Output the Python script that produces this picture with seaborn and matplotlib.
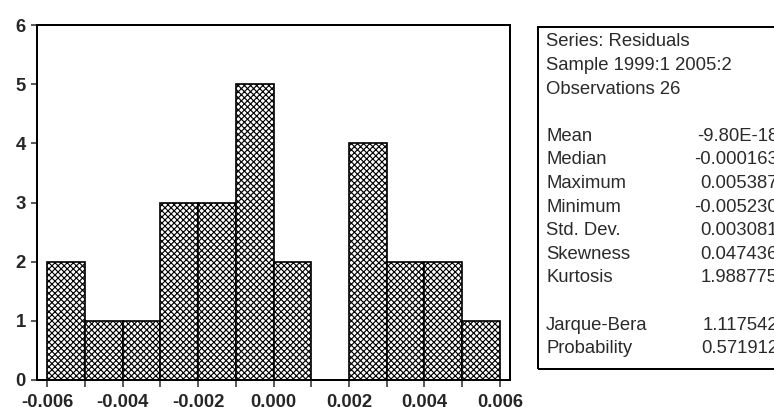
import numpy as np
import matplotlib
matplotlib.use("Agg")
import matplotlib.pyplot as plt
from matplotlib.patches import Rectangle
import seaborn as sns

# Residual histogram: bin edges and counts per bin
bin_edges = [-0.006, -0.005, -0.004, -0.003, -0.002, -0.001,
             0.000, 0.001, 0.002, 0.003, 0.004, 0.005, 0.006]
bin_counts = [2, 1, 1, 3, 3, 5, 2, 0, 4, 2, 2, 1]

x_ticks = [-0.006, -0.004, -0.002, 0.000, 0.002, 0.004, 0.006]
x_tick_labels = ["-0.006", "-0.004", "-0.002", "0.000", "0.002", "0.004", "0.006"]
y_ticks = [0, 1, 2, 3, 4, 5, 6]
y_tick_labels = ["0", "1", "2", "3", "4", "5", "6"]

# Summary statistics table
header_lines = ["Series: Residuals", "Sample 1999:1 2005:2", "Observations 26"]
stat_names = ["Mean", "Median", "Maximum", "Minimum", "Std. Dev.", "Skewness", "Kurtosis"]
stat_values = ["-9.80E-18", "-0.000163", "0.005387", "-0.005230",
               "0.003081", "0.047436", "1.988775"]
test_names = ["Jarque-Bera", "Probability"]
test_values = ["1.117542", "0.571912"]

W, H, DPI = 774, 407, 110
PT = 72.0 / DPI  # points per pixel

sns.set_style("ticks")
plt.rcParams["font.family"] = ["Liberation Sans", "DejaVu Sans"]
plt.rcParams["hatch.linewidth"] = 0.75
plt.rcParams["hatch.color"] = "black"

fig = plt.figure(figsize=(W / DPI, H / DPI), dpi=DPI)
fig.patch.set_facecolor("white")
ax = fig.add_axes([37 / W, (H - 380) / H, (510 - 37) / W, (380 - 25) / H])

centers = [(a + b) / 2 for a, b in zip(bin_edges[:-1], bin_edges[1:])]
sns.histplot(x=centers, weights=bin_counts, bins=bin_edges, ax=ax,
             color="white", edgecolor="black", linewidth=1.1, alpha=1.0)
for p in ax.patches:
    p.set_hatch("xxxxxx")
    p.set_edgecolor("black")
    p.set_facecolor("white")

ax.set_xlim(-0.00627, 0.00627)
ax.set_ylim(0, 6)
ax.set_xticks(x_ticks)
ax.set_xticklabels(x_tick_labels)
ax.set_xticks(bin_edges, minor=True)
ax.set_yticks(y_ticks)
ax.set_yticklabels(y_tick_labels)
ax.set_xlabel("")
ax.set_ylabel("")

for s in ax.spines.values():
    s.set_visible(True)
    s.set_linewidth(2 * PT)
    s.set_color("black")

lab_size = 18.5 * PT
ax.tick_params(axis="x", which="both", direction="out", length=7 * PT,
               width=1.5 * PT, pad=7 * PT, labelsize=lab_size)
ax.tick_params(axis="y", which="major", direction="out", length=6 * PT,
               width=1.5 * PT, pad=5 * PT, labelsize=lab_size)
for t in ax.get_xticklabels() + ax.get_yticklabels():
    t.set_fontweight("bold")

# Statistics box on the right
fig.patches.append(Rectangle((538 / W, 1 - 369 / H), (820 - 538) / W, (369 - 27) / H,
                             transform=fig.transFigure, fill=False,
                             edgecolor="black", linewidth=2 * PT))

row_h = 23.6
y0 = 42
txt_kw = dict(fontsize=18.5 * PT, color="#2a2a2a", va="center")
rows = []
for i, line in enumerate(header_lines):
    rows.append((i, line, None))
for j, (n, v) in enumerate(zip(stat_names, stat_values)):
    rows.append((4 + j, n, v))
for j, (n, v) in enumerate(zip(test_names, test_values)):
    rows.append((12 + j, n, v))
for r, name, val in rows:
    yy = 1 - (y0 + r * row_h) / H
    fig.text(546 / W, yy, name, ha="left", **txt_kw)
    if val is not None:
        fig.text(778 / W, yy, val, ha="right", **txt_kw)

fig.savefig("out.png", dpi=DPI, facecolor="white")
